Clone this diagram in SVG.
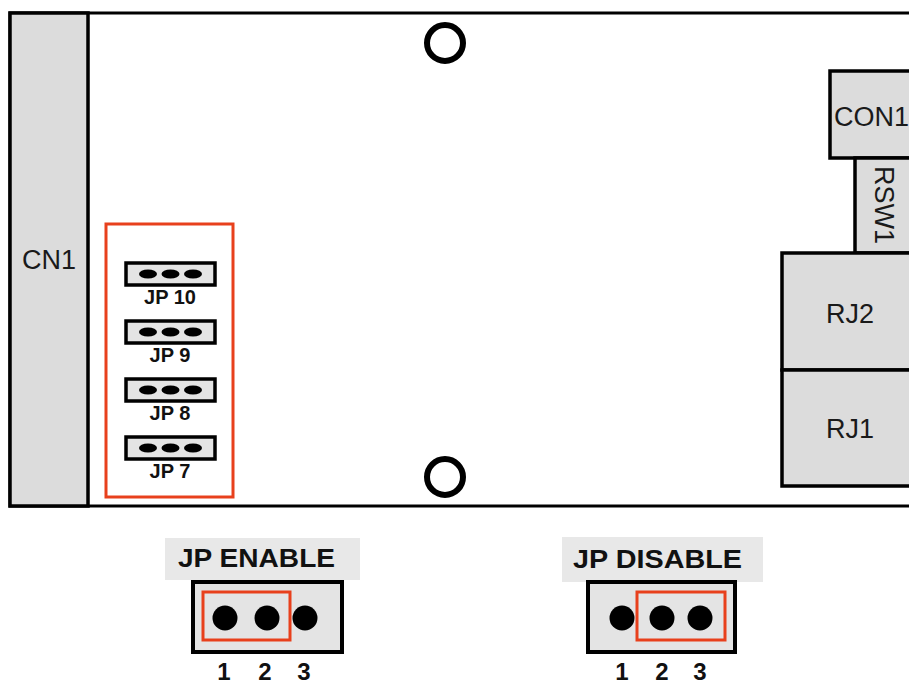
<svg xmlns="http://www.w3.org/2000/svg" width="909" height="686" viewBox="0 0 909 686">
<style>
.comp{fill:#dcdcdc;stroke:#000;stroke-width:3.5}
.lbl{font-family:"Liberation Sans",Arial,sans-serif;font-size:27px;fill:#1a1a1a}
.jp{fill:#e4e4e4;stroke:#000;stroke-width:3.5}
.jpt{font-family:"Liberation Sans",Arial,sans-serif;font-size:20px;font-weight:bold;fill:#111;text-anchor:middle}
.big{font-family:"Liberation Sans",Arial,sans-serif;font-size:25px;font-weight:bold;fill:#111}
.num{font-family:"Liberation Sans",Arial,sans-serif;font-size:24px;font-weight:bold;fill:#111;text-anchor:middle}
.red{fill:none;stroke:#e8401c;stroke-width:3}
.hole{fill:#fff;stroke:#000;stroke-width:6}
</style>
<defs>
<g id="jpr">
<rect class="jp" x="0" y="0" width="89" height="22"/>
<ellipse cx="22" cy="11" rx="9" ry="4.5" fill="#000"/>
<ellipse cx="44.5" cy="11" rx="9" ry="4.5" fill="#000"/>
<ellipse cx="67" cy="11" rx="9" ry="4.5" fill="#000"/>
</g>
</defs>
<rect width="909" height="686" fill="#fff"/>
<g id="board">
<rect x="10" y="13" width="910" height="493" fill="#fff" stroke="#000" stroke-width="3"/>
</g>
<g id="cn1">
<rect class="comp" x="10" y="13" width="78" height="493"/>
<text class="lbl" x="49" y="269" text-anchor="middle">CN1</text>
</g>
<g id="holes">
<circle class="hole" cx="445" cy="43" r="18"/>
<circle class="hole" cx="445" cy="477" r="18"/>
</g>
<g id="jumpers">
<rect class="red" x="106" y="224" width="127" height="273"/>
<use href="#jpr" x="126" y="263"/>
<text class="jpt" x="170" y="304">JP 10</text>
<use href="#jpr" x="126" y="321"/>
<text class="jpt" x="170" y="362">JP 9</text>
<use href="#jpr" x="126" y="379"/>
<text class="jpt" x="170" y="420">JP 8</text>
<use href="#jpr" x="126" y="437"/>
<text class="jpt" x="170" y="478">JP 7</text>
</g>
<g id="con1">
<rect class="comp" x="830" y="71" width="100" height="87"/>
<text class="lbl" x="834" y="126">CON1</text>
</g>
<g id="rsw1">
<rect class="comp" x="855" y="158" width="80" height="95"/>
<text class="lbl" transform="translate(875,205) rotate(90)" text-anchor="middle">RSW1</text>
</g>
<g id="rj2">
<rect class="comp" x="782" y="253" width="150" height="117"/>
<text class="lbl" x="850" y="323" text-anchor="middle">RJ2</text>
</g>
<g id="rj1">
<rect class="comp" x="782" y="370" width="150" height="116"/>
<text class="lbl" x="850" y="438" text-anchor="middle">RJ1</text>
</g>
<g id="jp-enable">
<rect x="165" y="538" width="195" height="42" fill="#e8e8e8"/>
<text class="big" x="178" y="567" textLength="157" lengthAdjust="spacingAndGlyphs">JP ENABLE</text>
<rect x="193" y="582" width="149" height="70" fill="#e4e4e4" stroke="#000" stroke-width="4"/>
<circle cx="225" cy="618" r="12.5" fill="#000"/>
<circle cx="267" cy="618" r="12.5" fill="#000"/>
<circle cx="305" cy="618" r="12.5" fill="#000"/>
<rect class="red" x="203" y="592" width="87" height="48"/>
<text class="num" x="224" y="680">1</text>
<text class="num" x="265" y="680">2</text>
<text class="num" x="304" y="680">3</text>
</g>
<g id="jp-disable">
<rect x="562" y="537" width="201" height="45" fill="#e8e8e8"/>
<text class="big" x="573" y="568" textLength="169" lengthAdjust="spacingAndGlyphs">JP DISABLE</text>
<rect x="588" y="582" width="147" height="70" fill="#e4e4e4" stroke="#000" stroke-width="4"/>
<circle cx="622" cy="618" r="12.5" fill="#000"/>
<circle cx="662" cy="618" r="12.5" fill="#000"/>
<circle cx="700" cy="618" r="12.5" fill="#000"/>
<rect class="red" x="637" y="592" width="88" height="48"/>
<text class="num" x="622" y="680">1</text>
<text class="num" x="662" y="680">2</text>
<text class="num" x="700" y="680">3</text>
</g>
<g id="connectors"></g>
</svg>
